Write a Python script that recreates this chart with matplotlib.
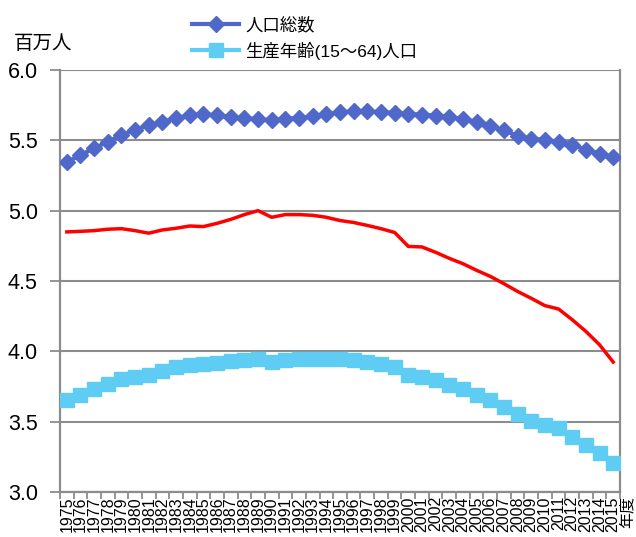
import matplotlib
matplotlib.use("Agg")
import matplotlib.pyplot as plt

plt.rcParams['font.family'] = ['Liberation Sans', 'Noto Sans CJK JP']

# fiscal years on the category axis
years = list(range(1975, 2016))

# 人口総数 (million people)
total_pop = [5.344, 5.396, 5.443, 5.491, 5.536, 5.576, 5.607, 5.633, 5.656, 5.678,
             5.685, 5.678, 5.666, 5.656, 5.652, 5.642, 5.652, 5.661, 5.670, 5.684,
             5.700, 5.705, 5.705, 5.700, 5.695, 5.688, 5.683, 5.676, 5.666, 5.652,
             5.631, 5.604, 5.571, 5.533, 5.510, 5.505, 5.489, 5.470, 5.434, 5.405,
             5.379]

# 生産年齢(15～64)人口 (million people)
working_pop = [3.654, 3.692, 3.730, 3.765, 3.800, 3.820, 3.834, 3.862, 3.886, 3.900,
               3.910, 3.919, 3.929, 3.938, 3.948, 3.924, 3.938, 3.945, 3.948, 3.948,
               3.943, 3.938, 3.924, 3.910, 3.891, 3.830, 3.820, 3.796, 3.760, 3.730,
               3.692, 3.654, 3.602, 3.554, 3.507, 3.476, 3.453, 3.389, 3.334, 3.275,
               3.208]

# third series, drawn without a legend entry
series3 = [4.849, 4.853, 4.858, 4.868, 4.872, 4.858, 4.840, 4.863, 4.875, 4.891,
           4.887, 4.910, 4.938, 4.972, 5.000, 4.953, 4.972, 4.972, 4.967, 4.953,
           4.930, 4.916, 4.895, 4.872, 4.845, 4.746, 4.742, 4.704, 4.661, 4.623,
           4.576, 4.533, 4.481, 4.426, 4.377, 4.325, 4.301, 4.225, 4.142, 4.047,
           3.924]

y_ticks = [3.0, 3.5, 4.0, 4.5, 5.0, 5.5, 6.0]

gray = '#8c8c8c'
blue = '#4f68c9'
light_blue = '#5fcdf3'

fig = plt.figure(figsize=(6.36, 5.37), dpi=100)
ax = fig.add_axes([60 / 636, 45 / 537, 560 / 636, 422 / 537])

x = list(range(len(years)))
ax.plot(x, total_pop, color=blue, lw=3, marker='D', ms=8, mec=blue,
        label='人口総数', zorder=4)
ax.plot(x, working_pop, color=light_blue, lw=3, marker='s', ms=10, mec=light_blue,
        label='生産年齢(15～64)人口', zorder=3)
ax.plot(x, series3, color='#ff0000', lw=2.5, zorder=5)

ax.set_xlim(-0.5, len(years) - 0.5)
ax.set_ylim(3.0, 6.0)
ax.set_yticks(y_ticks)
ax.set_yticklabels([f'{v:.1f}' for v in y_ticks], fontsize=15.5)
ax.yaxis.grid(True, color=gray, lw=1.5)
ax.set_axisbelow(True)

# year labels at category centres, tick marks on category boundaries
ax.set_xticks(x)
ax.set_xticklabels([str(y) for y in years], rotation=90, fontsize=11.5,
                   va='top', ha='center')
ax.set_xticks([i - 0.5 for i in range(len(years) + 1)], minor=True)
ax.tick_params(axis='x', which='major', length=0, pad=3)
ax.tick_params(axis='x', which='minor', length=5, color=gray, width=1.3)
ax.tick_params(axis='y', length=7, color=gray, width=1.3, pad=9)

for side in ['left', 'right', 'bottom']:
    ax.spines[side].set_color(gray)
    ax.spines[side].set_linewidth(1.6)
ax.spines['top'].set_visible(False)

fig.text(43 / 636, 1 - 44 / 537, '百万人', fontsize=14, ha='center', va='center')
fig.text(635 / 636, 1 - 496 / 537, '年度', rotation=90, fontsize=11.5,
         ha='right', va='top')

ax.legend(loc='lower center', bbox_to_anchor=(0.437, 0.996), frameon=False,
          fontsize=12.5, handlelength=2.7, handletextpad=0.35, labelspacing=0.5,
          borderpad=0.2)

fig.savefig('out.png', dpi=100)
